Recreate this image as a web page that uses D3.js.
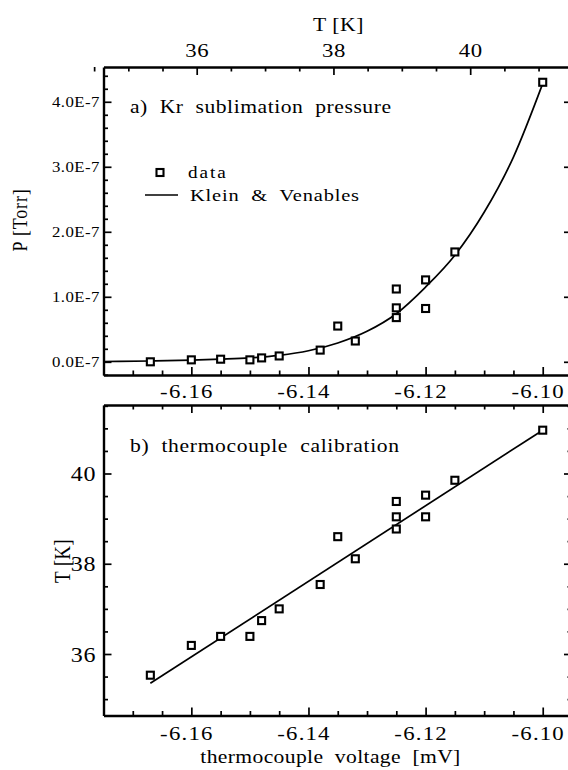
<!DOCTYPE html>
<html><head><meta charset="utf-8">
<script src="https://cdn.jsdelivr.net/npm/d3@7"></script>
<style>
body{margin:0;background:#fff;}
svg{display:block;}
text{font-family:"Liberation Serif","Times New Roman",serif;fill:#000;white-space:pre;}
</style></head><body>
<svg id="chart" width="568" height="770"></svg>
<script>
// ---- data ----
const voltage = [-6.167, -6.160, -6.155, -6.150, -6.148, -6.145, -6.138, -6.135, -6.132, -6.125, -6.125, -6.125, -6.120, -6.120, -6.115, -6.100];
const pressure = [0.00, 0.03, 0.04, 0.03, 0.06, 0.09, 0.18, 0.55, 0.32, 1.12, 0.83, 0.68, 1.26, 0.82, 1.69, 4.30]; // x 1E-7 Torr
const temperature = [35.53, 36.19, 36.39, 36.39, 36.74, 37.00, 37.54, 38.60, 38.11, 39.38, 39.04, 38.77, 39.52, 39.04, 39.85, 40.96];
const kvVoltage = [-6.175, -6.167, -6.160, -6.155, -6.150, -6.145, -6.140, -6.135, -6.130, -6.125, -6.120, -6.115, -6.110, -6.105, -6.100];
const kvPressure = [0.005, 0.012, 0.025, 0.04, 0.06, 0.10, 0.17, 0.29, 0.47, 0.74, 1.15, 1.64, 2.30, 3.15, 4.28];
const calVoltage = [-6.167, -6.100];
const calTemp = [35.35, 40.96];
const voltTicks = [-6.16, -6.14, -6.12, -6.10];
const tempTopTicks = [36, 38, 40];
const pTicks = [0, 1, 2, 3, 4];
const pTickLabels = ["0.0E-7", "1.0E-7", "2.0E-7", "3.0E-7", "4.0E-7"];
const tTicks = [36, 38, 40];

const svg = d3.select("#chart");
const SX = 1.2;

const x = d3.scaleLinear().domain([-6.175, -6.095]).range([103.5, 572]);
const xT = d3.scaleLinear().domain([34.637, 41.489]).range([103.5, 572]);
const yA = d3.scaleLinear().domain([-0.203, 4.535]).range([375, 67]);
const yB = d3.scaleLinear().domain([34.637, 41.518]).range([715.5, 405]);

const voltMinor = d3.range(-6.170, -6.0951, 0.005).filter(v => !voltTicks.some(t => Math.abs(t - v) < 1e-6));
const tempMinor = d3.range(34.5, 41.51, 0.5).filter(v => v % 2 !== 0);
const pMinor = d3.range(-0.2, 4.55, 0.2).filter(v => Math.abs(v - Math.round(v)) > 1e-6);

function tickAxis(gen, scale, values, size, tx, ty, keepDomain) {
  const a = gen(scale).tickValues(values).tickSize(size).tickSizeOuter(0).tickFormat("");
  const g = svg.append("g").attr("transform", `translate(${tx},${ty})`).call(a);
  g.selectAll(".tick line").attr("stroke", "#000").attr("stroke-width", 1.7);
  if (keepDomain) g.select(".domain").attr("stroke", "#000").attr("stroke-width", 2.4);
  else g.select(".domain").remove();
  g.selectAll("text").remove();
  return g;
}

const MAJ = 8, MIN = 4.5;
// panel a frame
tickAxis(d3.axisBottom, xT, tempTopTicks, MAJ, 0, 67, true);
tickAxis(d3.axisBottom, xT, tempMinor, MIN, 0, 67, false);
tickAxis(d3.axisTop, x, voltTicks, MAJ, 0, 375, true);
tickAxis(d3.axisTop, x, voltMinor, MIN, 0, 375, false);
tickAxis(d3.axisRight, yA, pTicks, MAJ, 103.5, 0, true);
tickAxis(d3.axisRight, yA, pMinor, MIN, 103.5, 0, false);
tickAxis(d3.axisLeft, yA, pTicks, MAJ, 572, 0, false);
// panel b frame
tickAxis(d3.axisBottom, x, voltTicks, MAJ, 0, 405, true);
tickAxis(d3.axisBottom, x, voltMinor, MIN, 0, 405, false);
tickAxis(d3.axisTop, x, voltTicks, MAJ, 0, 715.5, true);
tickAxis(d3.axisTop, x, voltMinor, MIN, 0, 715.5, false);
const tMinor = d3.range(35, 41.51, 0.5).filter(v => v % 2 !== 0);
tickAxis(d3.axisRight, yB, tTicks, MAJ, 103.5, 0, true);
tickAxis(d3.axisRight, yB, tMinor, MIN, 103.5, 0, false);
tickAxis(d3.axisLeft, yB, tTicks, MAJ, 572, 0, false);
tickAxis(d3.axisLeft, yB, tMinor, MIN, 572, 0, false);

// tick labels through axes
function labelAxis(gen, scale, values, fmt, tx, ty, size, spacing, place) {
  const a = gen(scale).tickValues(values).tickSize(0).tickFormat(fmt);
  const g = svg.append("g").attr("transform", `translate(${tx},${ty})`).call(a);
  g.select(".domain").remove();
  g.selectAll(".tick line").remove();
  g.selectAll("text").attr("font-size", size).attr("font-family", '"Liberation Serif", serif')
    .style("letter-spacing", spacing + "px").attr("fill", "#000");
  place(g.selectAll("text"));
  return g;
}
labelAxis(d3.axisTop, xT, tempTopTicks, d => String(d), 0, 57, 19, 0.5, t =>
  t.attr("y", 0).attr("dy", 0).attr("text-anchor", "middle").attr("transform", `scale(${SX},1)`));
labelAxis(d3.axisBottom, x, voltTicks, d => d.toFixed(2), 0, 398, 19, 1, t =>
  t.attr("y", 0).attr("dy", 0).attr("text-anchor", "middle").attr("transform", `translate(-5,0) scale(${SX},1)`));
labelAxis(d3.axisBottom, x, voltTicks, d => d.toFixed(2), 0, 740, 19, 1, t =>
  t.attr("y", 0).attr("dy", 0).attr("text-anchor", "middle").attr("transform", `translate(-5,0) scale(${SX},1)`));
labelAxis(d3.axisLeft, yA, pTicks, (d, i) => pTickLabels[i], 100, 0, 14, 0.4, t =>
  t.attr("x", 0).attr("dy", "0.35em").attr("text-anchor", "end").attr("transform", `scale(${SX},1)`));
labelAxis(d3.axisLeft, yB, tTicks, d => String(d), 96, 0, 20, 0.5, t =>
  t.attr("x", 0).attr("dy", "0.36em").attr("text-anchor", "end").attr("transform", `scale(${SX},1)`));

// free texts
function label(txt, px, py, size, anchor, spacing, rot) {
  const g = svg.append("g").attr("transform", `translate(${px},${py}) scale(${SX},1)` + (rot ? ` rotate(${rot})` : ""));
  g.append("text").attr("text-anchor", anchor).attr("font-size", size)
    .attr("xml:space", "preserve")
    .style("letter-spacing", spacing + "px").text(txt);
}
label("T [K]", 338.5, 31, 18, "middle", 0.5);
label("a)  Kr  sublimation  pressure", 130, 113, 18, "start", 0.45);
label("data", 188, 178, 16, "start", 1.6);
label("Klein  &  Venables", 190, 201, 17, "start", 0.7);
label("b)  thermocouple  calibration", 130, 452, 18, "start", 0.55);
label("thermocouple  voltage  [mV]", 330.5, 763, 18, "middle", 0.3);
label("P [Torr]", 27, 220, 18, "middle", 0.8, -90);
label("T [K]", 70, 561, 19, "middle", 0.3, -90);

// legend marks
svg.append("rect").attr("x", 160 - 3.5).attr("y", 172.5 - 3.5).attr("width", 7).attr("height", 7)
  .attr("fill", "#fff").attr("stroke", "#000").attr("stroke-width", 2.1);
svg.append("line").attr("x1", 145).attr("x2", 178).attr("y1", 195).attr("y2", 195)
  .attr("stroke", "#000").attr("stroke-width", 1.6);

// panel a curve + points
const kv = kvVoltage.map((v, i) => [v, kvPressure[i]]);
svg.append("path").datum(kv)
  .attr("d", d3.line().x(d => x(d[0])).y(d => yA(d[1])).curve(d3.curveMonotoneX))
  .attr("fill", "none").attr("stroke", "#000").attr("stroke-width", 1.7);
svg.append("g").selectAll("rect").data(voltage.map((v, i) => [v, pressure[i]])).join("rect")
  .attr("x", d => x(d[0]) - 3.5).attr("y", d => yA(d[1]) - 3.5).attr("width", 7).attr("height", 7)
  .attr("fill", "#fff").attr("stroke", "#000").attr("stroke-width", 2.1);

// panel b line + points
svg.append("path").datum(calVoltage.map((v, i) => [v, calTemp[i]]))
  .attr("d", d3.line().x(d => x(d[0])).y(d => yB(d[1])))
  .attr("fill", "none").attr("stroke", "#000").attr("stroke-width", 1.7);
svg.append("g").selectAll("rect").data(voltage.map((v, i) => [v, temperature[i]])).join("rect")
  .attr("x", d => x(d[0]) - 3.5).attr("y", d => yB(d[1]) - 3.5).attr("width", 7).attr("height", 7)
  .attr("fill", "#fff").attr("stroke", "#000").attr("stroke-width", 2.1);
</script>
</body></html>
